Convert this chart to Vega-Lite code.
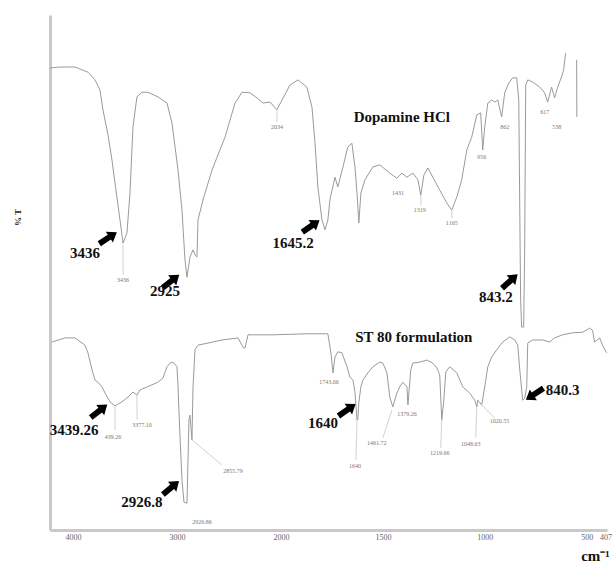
{
  "$schema": "https://vega.github.io/schema/vega-lite/v6.json",
  "autosize": {"type": "none"},
  "width": 557,
  "height": 515,
  "padding": {"left": 50, "top": 15, "right": 6, "bottom": 32},
  "background": "white",
  "config": {"view": {"stroke": null}},
  "datasets": {
    "spectra": [
      {"seg":"top","wn":4221,"t":89.7},{"seg":"top","wn":4125,"t":89.9},{"seg":"top","wn":3981,"t":89.9},{"seg":"top","wn":3856,"t":88.9},{"seg":"top","wn":3788,"t":87.4},{"seg":"top","wn":3740,"t":85.4},{"seg":"top","wn":3712,"t":81.6},{"seg":"top","wn":3663,"t":76.7},{"seg":"top","wn":3625,"t":71.8},{"seg":"top","wn":3587,"t":66.0},{"seg":"top","wn":3548,"t":60.2},{"seg":"top","wn":3519,"t":55.7},{"seg":"top","wn":3481,"t":57.7},{"seg":"top","wn":3452,"t":65.4},{"seg":"top","wn":3423,"t":78.3},{"seg":"top","wn":3385,"t":84.1},{"seg":"top","wn":3337,"t":85.0},{"seg":"top","wn":3279,"t":85.0},{"seg":"top","wn":3183,"t":84.1},{"seg":"top","wn":3096,"t":82.9},{"seg":"top","wn":3048,"t":79.0},{"seg":"top","wn":3019,"t":74.4},{"seg":"top","wn":2990,"t":69.9},{"seg":"top","wn":2952,"t":62.1},{"seg":"top","wn":2923,"t":52.4},{"seg":"top","wn":2904,"t":49.1},{"seg":"top","wn":2875,"t":53.0},{"seg":"top","wn":2846,"t":54.4},{"seg":"top","wn":2827,"t":53.4},{"seg":"top","wn":2808,"t":53.0},{"seg":"top","wn":2798,"t":60.2},{"seg":"top","wn":2750,"t":64.1},{"seg":"top","wn":2663,"t":69.9},{"seg":"top","wn":2538,"t":76.3},{"seg":"top","wn":2442,"t":82.9},{"seg":"top","wn":2375,"t":85.0},{"seg":"top","wn":2298,"t":84.9},{"seg":"top","wn":2231,"t":83.9},{"seg":"top","wn":2173,"t":82.9},{"seg":"top","wn":2106,"t":83.1},{"seg":"top","wn":2039,"t":81.6},{"seg":"top","wn":1995,"t":83.5},{"seg":"top","wn":1956,"t":86.4},{"seg":"top","wn":1917,"t":87.4},{"seg":"top","wn":1873,"t":86.0},{"seg":"top","wn":1848,"t":82.1},{"seg":"top","wn":1833,"t":75.1},{"seg":"top","wn":1819,"t":66.6},{"seg":"top","wn":1799,"t":60.2},{"seg":"top","wn":1784,"t":58.3},{"seg":"top","wn":1770,"t":60.2},{"seg":"top","wn":1760,"t":64.1},{"seg":"top","wn":1735,"t":68.5},{"seg":"top","wn":1721,"t":66.6},{"seg":"top","wn":1696,"t":70.5},{"seg":"top","wn":1672,"t":74.4},{"seg":"top","wn":1652,"t":75.1},{"seg":"top","wn":1637,"t":70.5},{"seg":"top","wn":1627,"t":65.4},{"seg":"top","wn":1618,"t":59.6},{"seg":"top","wn":1608,"t":65.4},{"seg":"top","wn":1588,"t":68.0},{"seg":"top","wn":1549,"t":70.5},{"seg":"top","wn":1515,"t":70.9},{"seg":"top","wn":1466,"t":69.3},{"seg":"top","wn":1431,"t":68.3},{"seg":"top","wn":1407,"t":69.3},{"seg":"top","wn":1382,"t":68.5},{"seg":"top","wn":1353,"t":69.3},{"seg":"top","wn":1328,"t":68.0},{"seg":"top","wn":1314,"t":65.0},{"seg":"top","wn":1299,"t":68.9},{"seg":"top","wn":1279,"t":70.3},{"seg":"top","wn":1255,"t":68.5},{"seg":"top","wn":1221,"t":66.0},{"seg":"top","wn":1186,"t":63.5},{"seg":"top","wn":1162,"t":62.1},{"seg":"top","wn":1137,"t":64.7},{"seg":"top","wn":1113,"t":68.0},{"seg":"top","wn":1088,"t":73.8},{"seg":"top","wn":1064,"t":76.3},{"seg":"top","wn":1039,"t":80.6},{"seg":"top","wn":1020,"t":81.0},{"seg":"top","wn":1010,"t":73.8},{"seg":"top","wn":1000,"t":78.3},{"seg":"top","wn":985,"t":82.9},{"seg":"top","wn":966,"t":83.5},{"seg":"top","wn":951,"t":83.1},{"seg":"top","wn":936,"t":83.5},{"seg":"top","wn":917,"t":80.2},{"seg":"top","wn":902,"t":84.9},{"seg":"top","wn":882,"t":86.8},{"seg":"top","wn":863,"t":87.8},{"seg":"top","wn":843,"t":87.8},{"seg":"top","wn":833,"t":83.5},{"seg":"top","wn":824,"t":44.7},{"seg":"top","wn":819,"t":39.4},{"seg":"top","wn":809,"t":39.4},{"seg":"top","wn":804,"t":54.4},{"seg":"top","wn":799,"t":86.4},{"seg":"top","wn":789,"t":87.4},{"seg":"top","wn":765,"t":87.0},{"seg":"top","wn":730,"t":86.0},{"seg":"top","wn":706,"t":84.9},{"seg":"top","wn":691,"t":83.1},{"seg":"top","wn":672,"t":86.0},{"seg":"top","wn":657,"t":83.9},{"seg":"top","wn":642,"t":86.0},{"seg":"top","wn":623,"t":88.0},{"seg":"top","wn":613,"t":89.3},{"seg":"top","wn":603,"t":92.6},
      {"seg":"tail","wn":549,"t":91.3},{"seg":"tail","wn":548,"t":80.2},
      {"seg":"bot","wn":4202,"t":36.5},{"seg":"bot","wn":4077,"t":37.3},{"seg":"bot","wn":3981,"t":37.3},{"seg":"bot","wn":3885,"t":35.9},{"seg":"bot","wn":3856,"t":34.4},{"seg":"bot","wn":3817,"t":31.1},{"seg":"bot","wn":3788,"t":29.1},{"seg":"bot","wn":3760,"t":28.7},{"seg":"bot","wn":3721,"t":27.8},{"seg":"bot","wn":3692,"t":26.6},{"seg":"bot","wn":3644,"t":24.9},{"seg":"bot","wn":3596,"t":24.1},{"seg":"bot","wn":3529,"t":24.9},{"seg":"bot","wn":3471,"t":25.8},{"seg":"bot","wn":3423,"t":26.8},{"seg":"bot","wn":3385,"t":26.2},{"seg":"bot","wn":3356,"t":27.2},{"seg":"bot","wn":3308,"t":27.6},{"seg":"bot","wn":3240,"t":28.2},{"seg":"bot","wn":3183,"t":28.7},{"seg":"bot","wn":3135,"t":29.5},{"seg":"bot","wn":3096,"t":31.7},{"seg":"bot","wn":3067,"t":32.4},{"seg":"bot","wn":3039,"t":32.6},{"seg":"bot","wn":3000,"t":31.7},{"seg":"bot","wn":2990,"t":27.8},{"seg":"bot","wn":2971,"t":18.1},{"seg":"bot","wn":2952,"t":9.7},{"seg":"bot","wn":2933,"t":5.4},{"seg":"bot","wn":2904,"t":5.2},{"seg":"bot","wn":2885,"t":21.4},{"seg":"bot","wn":2875,"t":22.3},{"seg":"bot","wn":2856,"t":17.5},{"seg":"bot","wn":2846,"t":27.8},{"seg":"bot","wn":2827,"t":35.0},{"seg":"bot","wn":2798,"t":35.9},{"seg":"bot","wn":2702,"t":36.3},{"seg":"bot","wn":2567,"t":36.9},{"seg":"bot","wn":2413,"t":37.3},{"seg":"bot","wn":2365,"t":35.5},{"seg":"bot","wn":2346,"t":35.3},{"seg":"bot","wn":2317,"t":37.9},{"seg":"bot","wn":2077,"t":37.9},{"seg":"bot","wn":1873,"t":38.1},{"seg":"bot","wn":1770,"t":38.1},{"seg":"bot","wn":1755,"t":34.4},{"seg":"bot","wn":1745,"t":30.5},{"seg":"bot","wn":1735,"t":33.6},{"seg":"bot","wn":1721,"t":34.6},{"seg":"bot","wn":1701,"t":34.4},{"seg":"bot","wn":1676,"t":31.7},{"seg":"bot","wn":1662,"t":29.7},{"seg":"bot","wn":1647,"t":29.1},{"seg":"bot","wn":1637,"t":26.8},{"seg":"bot","wn":1627,"t":21.4},{"seg":"bot","wn":1623,"t":21.4},{"seg":"bot","wn":1618,"t":24.7},{"seg":"bot","wn":1608,"t":27.8},{"seg":"bot","wn":1598,"t":29.1},{"seg":"bot","wn":1574,"t":30.5},{"seg":"bot","wn":1549,"t":31.7},{"seg":"bot","wn":1515,"t":32.6},{"seg":"bot","wn":1500,"t":32.4},{"seg":"bot","wn":1480,"t":30.5},{"seg":"bot","wn":1466,"t":25.8},{"seg":"bot","wn":1451,"t":23.9},{"seg":"bot","wn":1431,"t":26.6},{"seg":"bot","wn":1417,"t":27.8},{"seg":"bot","wn":1402,"t":28.7},{"seg":"bot","wn":1382,"t":27.8},{"seg":"bot","wn":1377,"t":24.3},{"seg":"bot","wn":1363,"t":31.1},{"seg":"bot","wn":1353,"t":32.4},{"seg":"bot","wn":1319,"t":32.6},{"seg":"bot","wn":1284,"t":33.0},{"seg":"bot","wn":1255,"t":32.4},{"seg":"bot","wn":1235,"t":31.5},{"seg":"bot","wn":1221,"t":30.1},{"seg":"bot","wn":1211,"t":21.4},{"seg":"bot","wn":1201,"t":25.2},{"seg":"bot","wn":1191,"t":30.7},{"seg":"bot","wn":1172,"t":31.7},{"seg":"bot","wn":1137,"t":30.5},{"seg":"bot","wn":1108,"t":27.8},{"seg":"bot","wn":1074,"t":26.6},{"seg":"bot","wn":1049,"t":25.2},{"seg":"bot","wn":1039,"t":23.9},{"seg":"bot","wn":1034,"t":25.2},{"seg":"bot","wn":1015,"t":24.3},{"seg":"bot","wn":1000,"t":27.8},{"seg":"bot","wn":985,"t":31.7},{"seg":"bot","wn":966,"t":33.6},{"seg":"bot","wn":941,"t":35.0},{"seg":"bot","wn":912,"t":36.5},{"seg":"bot","wn":877,"t":37.5},{"seg":"bot","wn":853,"t":36.9},{"seg":"bot","wn":838,"t":35.9},{"seg":"bot","wn":828,"t":31.1},{"seg":"bot","wn":814,"t":25.2},{"seg":"bot","wn":804,"t":25.6},{"seg":"bot","wn":794,"t":27.8},{"seg":"bot","wn":789,"t":36.3},{"seg":"bot","wn":765,"t":36.9},{"seg":"bot","wn":716,"t":36.9},{"seg":"bot","wn":681,"t":36.5},{"seg":"bot","wn":657,"t":37.3},{"seg":"bot","wn":618,"t":37.9},{"seg":"bot","wn":569,"t":38.3},{"seg":"bot","wn":520,"t":38.4},{"seg":"bot","wn":485,"t":39.2},{"seg":"bot","wn":471,"t":38.8},{"seg":"bot","wn":461,"t":36.5},{"seg":"bot","wn":436,"t":37.3},{"seg":"bot","wn":422,"t":35.9},{"seg":"bot","wn":402,"t":34.4}
    ],
    "leaders": [
      {"id":"a","wn":3519,"t":55.3},{"id":"a","wn":3518,"t":49.5},
      {"id":"b","wn":2039,"t":81.6},{"id":"b","wn":2038,"t":79.2},
      {"id":"c","wn":1314,"t":65.0},{"id":"c","wn":1313,"t":63.1},
      {"id":"d","wn":1162,"t":62.1},{"id":"d","wn":1161,"t":60.6},
      {"id":"e","wn":3596,"t":24.1},{"id":"e","wn":3595,"t":19.4},
      {"id":"f","wn":3385,"t":26.2},{"id":"f","wn":3384,"t":21.4},
      {"id":"g","wn":2856,"t":17.5},{"id":"g","wn":2567,"t":12.6},
      {"id":"h","wn":1627,"t":21.4},{"id":"h","wn":1632,"t":13.6},
      {"id":"i","wn":1456,"t":23.3},{"id":"i","wn":1500,"t":17.9},
      {"id":"j","wn":1211,"t":21.4},{"id":"j","wn":1216,"t":15.9},
      {"id":"k","wn":1039,"t":23.9},{"id":"k","wn":1044,"t":17.9},
      {"id":"l","wn":1015,"t":24.3},{"id":"l","wn":951,"t":21.7}
    ],
    "arrows": [
      {"wn":3663,"t":56.7,"ang":-33},
      {"wn":3058,"t":48.3,"ang":-38},
      {"wn":1853,"t":59.0,"ang":-35},
      {"wn":877,"t":48.3,"ang":-42},
      {"wn":3750,"t":23.1,"ang":-38},
      {"wn":3058,"t":8.2,"ang":-40},
      {"wn":1676,"t":23.3,"ang":-35},
      {"wn":755,"t":26.4,"ang":147}
    ],
    "big": [
      {"txt":"3436","wn":3885,"t":53.8},
      {"txt":"2925","wn":3115,"t":46.4},
      {"txt":"1645.2","wn":1941,"t":55.7},
      {"txt":"843.2","wn":946,"t":45.2},
      {"txt":"Dopamine HCl","wn":1407,"t":80.2},
      {"txt":"3439.26","wn":3990,"t":19.4},
      {"txt":"2926.8","wn":3337,"t":5.4},
      {"txt":"1640","wn":1794,"t":20.8},
      {"txt":"840.3","wn":618,"t":27.2},
      {"txt":"ST 80 formulation","wn":1348,"t":37.5}
    ],
    "small": [
      {"txt":"3436","wn":3519,"t":48.5},
      {"txt":"2034","wn":2039,"t":78.3},
      {"txt":"1431","wn":1426,"t":65.4},
      {"txt":"1319","wn":1319,"t":62.1},
      {"txt":"1165","wn":1162,"t":59.6},
      {"txt":"956","wn":1015,"t":72.4},
      {"txt":"862","wn":902,"t":78.3},
      {"txt":"617","wn":706,"t":81.2},
      {"txt":"538","wn":647,"t":78.3},
      {"txt":"439.26","wn":3615,"t":18.1},
      {"txt":"3377.10","wn":3337,"t":20.4},
      {"txt":"2855.79","wn":2462,"t":11.5},
      {"txt":"2926.86","wn":2760,"t":1.6},
      {"txt":"1743.06","wn":1765,"t":28.7},
      {"txt":"1640","wn":1637,"t":12.4},
      {"txt":"1461.72","wn":1530,"t":16.9},
      {"txt":"1379.26","wn":1382,"t":22.5},
      {"txt":"1219.66","wn":1221,"t":15.0},
      {"txt":"1048.63","wn":1069,"t":16.7},
      {"txt":"1020.55","wn":927,"t":21.2}
    ]
  },
  "encoding": {
    "x": {
      "field": "wn", "type": "quantitative",
      "scale": {"domain": [4221, 2000, 400], "range": [0, 231, 557], "nice": false, "zero": false},
      "axis": {
        "values": [4000, 3000, 2000, 1500, 1000, 500, 407],
        "format": "d",
        "title": "cm⁻¹",
        "titleFont": "Liberation Serif", "titleFontSize": 15, "titleFontWeight": "bold", "titleColor": "#111",
        "titleX": 545, "titleY": 30, "titleBaseline": "alphabetic", "titleAnchor": null, "titleAlign": "center",
        "labelFont": "Liberation Serif", "labelFontSize": 8, "labelColor": "#666", "labelPadding": 3,
        "labelOverlap": false, "labelFlush": false,
        "ticks": false, "grid": false,
        "domainColor": "#c9c9c9", "domainWidth": 3
      }
    },
    "y": {
      "field": "t", "type": "quantitative",
      "scale": {"domain": [0, 100], "nice": false, "zero": false},
      "axis": {
        "title": "% T", "titleFont": "Liberation Serif", "titleFontSize": 9, "titleFontWeight": "bold", "titleColor": "#222",
        "titleX": -33, "titleY": 202, "titleAngle": -90, "titleAlign": "center", "titleBaseline": "middle",
        "labels": false, "ticks": false, "grid": false,
        "domainColor": "#c9c9c9", "domainWidth": 3
      }
    }
  },
  "layer": [
    {
      "data": {"name": "spectra"},
      "mark": {"type": "line", "color": "#9a9a9a", "strokeWidth": 1},
      "encoding": {"detail": {"field": "seg", "type": "nominal"}}
    },
    {
      "data": {"name": "leaders"},
      "mark": {"type": "line", "color": "#bdbdbd", "strokeWidth": 0.7},
      "encoding": {"detail": {"field": "id", "type": "nominal"}}
    },
    {
      "data": {"name": "arrows"},
      "mark": {"type": "point", "filled": true, "color": "#000", "opacity": 1, "size": 440,
               "shape": "M -1 -0.28 L 0.15 -0.28 L 0.15 -0.62 L 1 0 L 0.15 0.62 L 0.15 0.28 L -1 0.28 Z"},
      "encoding": {"angle": {"field": "ang", "type": "quantitative", "scale": null}}
    },
    {
      "data": {"name": "big"},
      "mark": {"type": "text", "font": "Liberation Serif", "fontSize": 15, "fontWeight": "bold", "color": "#111", "align": "center", "baseline": "middle"},
      "encoding": {"text": {"field": "txt", "type": "nominal"}}
    },
    {
      "data": {"name": "small"},
      "mark": {"type": "text", "font": "Liberation Serif", "fontSize": 6, "color": "#777", "align": "center", "baseline": "middle"},
      "encoding": {"text": {"field": "txt", "type": "nominal"}}
    }
  ]
}
